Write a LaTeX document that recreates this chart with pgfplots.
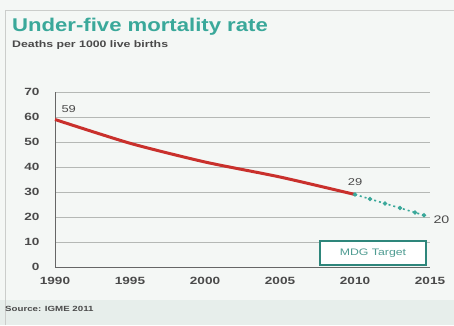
\documentclass[border=0pt]{standalone}
\usepackage{pgfplots}
\pgfplotsset{compat=1.18}
\usepackage{fontspec}
\setmainfont{Liberation Sans}
\newfontfamily\widefont[FakeStretch=1.3]{Liberation Sans}
\newfontfamily\titlefont[FakeStretch=1.2]{Liberation Sans}
\definecolor{mdgteal}{HTML}{3AA89A}
\definecolor{redline}{HTML}{C9302C}
\definecolor{bgcol}{HTML}{F4F7F5}
\definecolor{stripcol}{HTML}{E7EEEB}
\definecolor{gridcol}{HTML}{B5B8B5}
\definecolor{txtcol}{HTML}{4A4A4A}
\begin{document}
\begin{tikzpicture}[x=1bp,y=1bp]
% image coords (X,Y) -> (X-55, 267-Y)
\useasboundingbox (-55,-58) rectangle (399,267);
\fill[bgcol] (-55,-58) rectangle (399,267);
\fill[stripcol] (-55,-58) rectangle (399,-33);
\draw[gridcol!70, line width=0.8bp] (-50,-58) -- (-50,257) -- (399,257);
\node[anchor=base west, font=\titlefont\bfseries\fontsize{18.5}{20}\selectfont, text=mdgteal, inner sep=0] at (-43,236) {Under-five mortality rate};
\node[anchor=base west, font=\widefont\bfseries\fontsize{9.5}{11}\selectfont, text=txtcol, inner sep=0] at (-43,220) {Deaths per 1000 live births};
\node[anchor=base west, font=\widefont\bfseries\fontsize{7.5}{9}\selectfont, text=txtcol, inner sep=0] at (-50,-44) {Source: IGME 2011};
\begin{axis}[
  at={(0,0)}, anchor=south west,
  scale only axis, width=375bp, height=175bp,
  xmin=1990, xmax=2015, ymin=0, ymax=70,
  xtick={1990,1995,2000,2005,2010,2015},
  ytick={0,10,20,30,40,50,60,70},
  xticklabel style={/pgf/number format/1000 sep={}},
  /pgf/number format/assume math mode=true,
  tick label style={font=\widefont\bfseries\fontsize{10.5}{12}\selectfont, text=txtcol},
  major tick length=0pt,
  axis x line*=bottom, axis y line*=left,
  axis line style={-, draw=gray!80!black, line width=0.9bp},
  ymajorgrids, grid style={draw=gridcol, line width=0.8bp},
  yticklabel style={xshift=-12bp},
  xticklabel style={yshift=-7bp},
  clip=false,
]
\addplot[redline, line width=3bp, smooth, tension=0.4] coordinates {(1990,59) (1995,49.5) (2000,42) (2005,36) (2010,29)};
\addplot[mdgteal, line width=1.6bp, dash pattern=on 2bp off 3bp, mark=*, mark size=1.3bp, mark options={solid}, mark repeat=1] coordinates {(2010,29) (2011,27.2) (2012,25.4) (2013,23.6) (2014,21.8) (2014.6,20.7)};
\node[font=\widefont\fontsize{10}{11}\selectfont, text=txtcol, anchor=south west] at (axis cs:1990.2,60.5) {59};
\node[font=\widefont\fontsize{10}{11}\selectfont, text=txtcol, anchor=south] at (axis cs:2010,31) {29};
\node[font=\widefont\fontsize{11}{12}\selectfont, text=txtcol, anchor=west] at (axis cs:2015,19) {20};
\node[draw=mdgteal!80!black, line width=1.2bp, fill=white, text=mdgteal!70!gray, font=\widefont\fontsize{9.5}{11}\selectfont, minimum width=106bp, minimum height=24bp] at (axis cs:2011.2,5.6) {MDG Target};
\end{axis}
\end{tikzpicture}
\end{document}
